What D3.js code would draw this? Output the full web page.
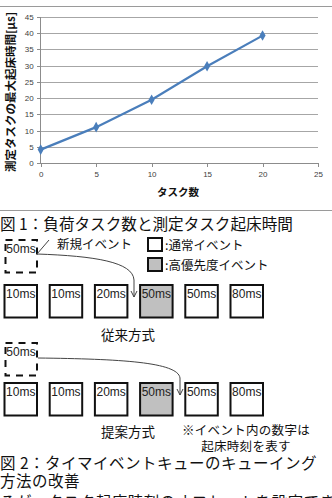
<!DOCTYPE html>
<meta charset="utf-8">
<style>
body { margin: 0; background: #fff; }
svg { display: block; }
.grid line { stroke: #a6a6a6; shape-rendering: crispEdges; }
.axis path, .axis line { stroke: #8c8c8c; shape-rendering: crispEdges; }
.axis text { font-family: "Liberation Sans", Arial, sans-serif; font-size: 8px; fill: #404040; }
.jp { font-family: "Noto Sans CJK JP", sans-serif; fill: #111; }
.box text { font-family: "Liberation Sans", Arial, sans-serif; font-size: 12px; fill: #222; }
</style>
<script src="https://d3js.org/d3.v7.min.js"></script>
<div id="chart"></div>
<script>

// chart data (figure 1)
var taskCounts = [0, 5, 10, 15, 20];
var wakeTimes = [4.2, 11.1, 19.5, 29.8, 39.2];
var xTicks = [0, 5, 10, 15, 20, 25];
var yTicks = [0, 5, 10, 15, 20, 25, 30, 35, 40, 45];

// queue data (figure 2)
var queueConventional = ["10ms", "10ms", "20ms", "50ms", "50ms", "80ms"];
var priorityConventional = [false, false, false, true, false, false];
var queueProposed = ["10ms", "10ms", "20ms", "50ms", "50ms", "80ms"];
var priorityProposed = [false, false, false, true, false, false];
var newEvent = "50ms";

var W = 332, H = 498;
var svg = d3.select("#chart").append("svg")
  .attr("width", W)
  .attr("height", H);

// top rule
svg.append("line").attr("x1", 0).attr("x2", W).attr("y1", 6.5).attr("y2", 6.5)
  .attr("stroke", "#9a9a9a");

// ---- figure 1 line chart ----
var x = d3.scaleLinear().domain([0, 25]).range([40.7, 318]);
var y = d3.scaleLinear().domain([0, 45]).range([163.3, 16.7]);

svg.append("g").attr("class", "grid")
  .selectAll("line").data(yTicks.slice(1)).enter().append("line")
  .attr("x1", x(0)).attr("x2", x(25))
  .attr("y1", function(d) { return Math.round(y(d)) + 0.5; })
  .attr("y2", function(d) { return Math.round(y(d)) + 0.5; });

svg.append("g").attr("class", "axis")
  .attr("transform", "translate(" + x(0) + ",0)")
  .call(d3.axisLeft(y).tickValues(yTicks).tickSize(4).tickPadding(3))
  .call(function(g) { g.select(".domain").attr("d", "M0," + y(0) + "V" + y(45)); });

svg.append("g").attr("class", "axis")
  .attr("transform", "translate(0," + y(0) + ")")
  .call(d3.axisBottom(x).tickValues(xTicks).tickSize(4).tickPadding(4))
  .call(function(g) { g.select(".domain").attr("d", "M" + x(0) + ",0H" + x(25)); });

var pts = taskCounts.map(function(d, i) { return [d, wakeTimes[i]]; });

svg.append("path")
  .datum(pts)
  .attr("fill", "none")
  .attr("stroke", "#4a7ebb")
  .attr("stroke-width", 2.2)
  .attr("d", d3.line().x(function(d) { return x(d[0]); }).y(function(d) { return y(d[1]); }));

svg.append("g").selectAll("path").data(pts).enter().append("path")
  .attr("transform", function(d) { return "translate(" + x(d[0]) + "," + y(d[1]) + ")"; })
  .attr("d", d3.symbol().type(d3.symbolDiamond).size(32))
  .attr("fill", "#4a7ebb");

svg.append("text").attr("class", "jp")
  .attr("transform", "translate(15," + 92 + ") rotate(-90)")
  .attr("text-anchor", "middle")
  .attr("font-size", "11.5px")
  .attr("font-weight", "bold")
  .text("測定タスクの最大起床時間[μs]");

svg.append("text").attr("class", "jp")
  .attr("x", 178).attr("y", 196)
  .attr("text-anchor", "middle")
  .attr("font-size", "10.5px")
  .attr("font-weight", "bold")
  .text("タスク数");

svg.append("line").attr("x1", 0).attr("x2", W).attr("y1", 210.5).attr("y2", 210.5)
  .attr("stroke", "#9a9a9a");

svg.append("text").attr("class", "jp")
  .attr("x", 0).attr("y", 230)
  .attr("font-size", "15.6px")
  .text("図 1：負荷タスク数と測定タスク起床時間");

// ---- figure 2 queue diagram ----
var bx = d3.scalePoint().domain(d3.range(6)).range([4.5, 230.5]);
var bs = 32.5;

function drawQueue(times, prio, top) {
  var g = svg.append("g").attr("class", "box");
  var cell = g.selectAll("g").data(times).enter().append("g")
    .attr("transform", function(d, i) { return "translate(" + bx(i) + "," + top + ")"; });
  cell.append("rect")
    .attr("width", bs).attr("height", bs)
    .attr("fill", function(d, i) { return prio[i] ? "#c0c0c0" : "#fff"; })
    .attr("stroke", "#111").attr("stroke-width", 2);
  cell.append("text")
    .attr("x", bs / 2).attr("y", 12.5)
    .attr("text-anchor", "middle")
    .text(function(d) { return d; });
}

function drawNew(top) {
  var g = svg.append("g").attr("class", "box");
  g.append("rect")
    .attr("x", 5.5).attr("y", top).attr("width", bs - 1).attr("height", bs)
    .attr("fill", "none").attr("stroke", "#111").attr("stroke-width", 2)
    .attr("stroke-dasharray", "7,6");
  g.append("text")
    .attr("x", 21).attr("y", top + 13)
    .attr("text-anchor", "middle")
    .text(newEvent);
}

function arrow(pathD, tipX, tipY) {
  svg.append("path").attr("d", pathD)
    .attr("fill", "none").attr("stroke", "#444").attr("stroke-width", 1);
  svg.append("path")
    .attr("d", "M" + (tipX - 3) + "," + (tipY - 6) + "L" + tipX + "," + tipY + "L" + (tipX + 3) + "," + (tipY - 6))
    .attr("fill", "none").attr("stroke", "#444").attr("stroke-width", 1);
}

// multi-line text as one element
function lines(sel, xs, ys, arr) {
  sel.selectAll("tspan").data(arr).enter().append("tspan")
    .attr("x", xs)
    .attr("y", function(d, i) { return ys[i]; })
    .text(function(d) { return d; });
}

// conventional
drawNew(240);
drawQueue(queueConventional, priorityConventional, 285);
svg.append("line").attr("x1", 49).attr("y1", 240).attr("x2", 37).attr("y2", 254)
  .attr("stroke", "#444");
arrow("M37,254 C95,256 133,262 134,280 L134,297", 134, 297);

svg.append("text").attr("class", "jp").attr("x", 57).attr("y", 249)
  .attr("font-size", "12.5px").text("新規イベント");

svg.append("rect").attr("x", 148).attr("y", 238).attr("width", 14).attr("height", 13)
  .attr("fill", "#fff").attr("stroke", "#111").attr("stroke-width", 2);
svg.append("rect").attr("x", 148).attr("y", 258).attr("width", 14).attr("height", 13)
  .attr("fill", "#c0c0c0").attr("stroke", "#111").attr("stroke-width", 2);
svg.append("text").attr("class", "jp").attr("x", 165).attr("y", 250)
  .attr("font-size", "12.5px").text(":通常イベント");
svg.append("text").attr("class", "jp").attr("x", 165).attr("y", 270)
  .attr("font-size", "12.5px").text(":高優先度イベント");

svg.append("text").attr("class", "jp").attr("x", 128).attr("y", 340)
  .attr("text-anchor", "middle").attr("font-size", "13.5px").text("従来方式");

// proposed
drawNew(343);
drawQueue(queueProposed, priorityProposed, 383);
arrow("M38,358 C120,359 178,362 180,378 L180,395", 180, 395);

svg.append("text").attr("class", "jp").attr("x", 128).attr("y", 437)
  .attr("text-anchor", "middle").attr("font-size", "13.5px").text("提案方式");
svg.append("text").attr("class", "jp")
  .attr("text-anchor", "middle").attr("font-size", "12.5px").attr("letter-spacing", "0.3px")
  .call(lines, 246, [435, 451], ["※イベント内の数字は", "起床時刻を表す"]);

svg.append("text").attr("class", "jp")
  .attr("font-size", "15.5px").attr("letter-spacing", "0.5px")
  .call(lines, 0, [469, 487, 508], ["図 2：タイマイベントキューのキューイング", "方法の改善", "るが、タスク起床時刻のオフセットを設定でき"]);
</script>
